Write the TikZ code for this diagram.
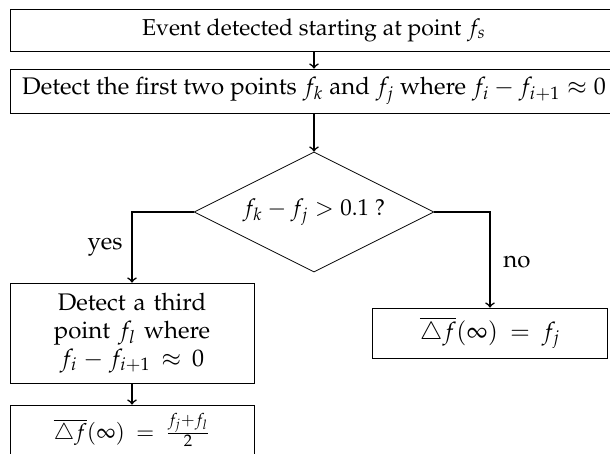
\documentclass[tikz,border=0pt]{standalone}
\usepackage[T1]{fontenc}
\usepackage{mathpazo}
\usetikzlibrary{shapes.geometric, positioning}

\tikzset{
  box/.style={draw, rectangle, align=center, inner sep=2pt, font=\fontsize{12}{14}\selectfont},
  decision/.style={draw, diamond, aspect=2, inner sep=0pt, minimum width=120pt, minimum height=60pt, font=\fontsize{11.5}{13}\selectfont},
  arr/.style={->, thick},
  lbl/.style={font=\fontsize{12}{14}\selectfont},
}

\begin{document}
\begin{tikzpicture}[x=0.5pt, y=-0.5pt]
    \useasboundingbox (0,0) rectangle (610,454);
    \clip (0,0) rectangle (610,454);

    \node[box, minimum width=304pt, minimum height=21pt, font=\fontsize{11.5}{13}\selectfont] (evt) at (314,30) {Event detected starting at point $f_s$};
    \node[box, minimum width=304pt, minimum height=22pt] (detect) at (314,91) {Detect the first two points $f_k$ and $f_j$ where $f_i - f_{i+1} \approx 0$};

    \node[decision] (check) at (314,212) {$f_k - f_j > 0.1$ ?};

    \node[box, text width=116pt, minimum width=122pt, minimum height=50pt] (third) at (132,333) {Detect a third\\ point $f_l$ where\\ $f_i - f_{i+1} \mskip8mu\mathord{\approx}\mskip8mu 0$};
    \node[box, minimum width=122pt, minimum height=25pt, font=\fontsize{11}{13}\selectfont] (avgl) at (132,430) {$\overline{\triangle f}(\infty) \mskip4mu=\mskip4mu \frac{f_j+f_l}{2}$};
    \node[box, minimum width=117.5pt, minimum height=25pt] (avgj) at (490,333) {$\overline{\triangle f}(\infty) \mskip4mu=\mskip4mu f_j$};

    \draw[arr] (evt) -- (detect);
    \draw[arr] (detect) -- (check);
    \draw[arr] (check.west) -| node[lbl, pos=0.75, left, xshift=-1pt] (yes) {yes} (third.north);
    \draw[arr] (check.east) -| node[lbl, pos=0.76, right, xshift=3pt] (no) {no} (avgj.north);
    \draw[arr] (third) -- (avgl);

\end{tikzpicture}
\end{document}
